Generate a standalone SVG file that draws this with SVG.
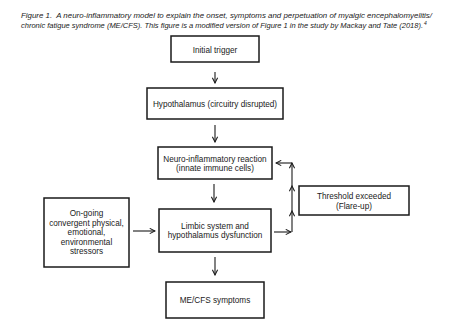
<svg xmlns="http://www.w3.org/2000/svg" width="450" height="321" viewBox="0 0 450 321">
<style>
.box{fill:#fff;stroke:#1a1a1a;stroke-width:1.5}
.t{font-family:"Liberation Sans",Arial,sans-serif;font-size:8.2px;fill:#1a1a1a;text-anchor:middle}
.cap{font-family:"Liberation Sans",Arial,sans-serif;font-size:7.4px;font-style:italic;fill:#1a1a1a}
.c{fill:none;stroke:#1a1a1a;stroke-width:1.1}
</style>
<defs>
<marker id="ah" viewBox="0 0 8 8" refX="7" refY="4" markerWidth="7" markerHeight="7" markerUnits="userSpaceOnUse" orient="auto">
<path d="M1,1 L7,4 L1,7" fill="none" stroke="#1a1a1a" stroke-width="1.2"/>
</marker>
</defs>
<rect width="450" height="321" fill="#fff"/>
<g id="caption">
<text class="cap" x="21" y="18" textLength="411" lengthAdjust="spacingAndGlyphs">Figure 1.&#160; A neuro-inflammatory model to explain the onset, symptoms and perpetuation of myalgic encephalomyelitis/</text>
<text class="cap" x="21" y="28" textLength="402" lengthAdjust="spacingAndGlyphs">chronic fatigue syndrome (ME/CFS). This figure is a modified version of Figure 1 in the study by Mackay and Tate (2018).</text>
<text class="cap" x="424" y="25" style="font-size:5px">4</text>
</g>
<g id="initial-trigger">
<rect class="box" x="171" y="36" width="88" height="26"/>
<text class="t" x="215" y="52.5">Initial trigger</text>
</g>
<g id="hypothalamus">
<rect class="box" x="147" y="88" width="136" height="31"/>
<text class="t" x="215" y="106.5">Hypothalamus (circuitry disrupted)</text>
</g>
<g id="neuro-inflammatory">
<rect class="box" x="158" y="147" width="114" height="32"/>
<text class="t" x="215" y="161.5">Neuro-inflammatory reaction</text>
<text class="t" x="215" y="171">(innate immune cells)</text>
</g>
<g id="limbic">
<rect class="box" x="159" y="209" width="112" height="43"/>
<text class="t" x="215" y="228.5">Limbic system and</text>
<text class="t" x="215" y="238">hypothalamus dysfunction</text>
</g>
<g id="stressors">
<rect class="box" x="44" y="198" width="85" height="69"/>
<text class="t" x="86.5" y="216">On-going</text>
<text class="t" x="86.5" y="225.5">convergent physical,</text>
<text class="t" x="86.5" y="235">emotional,</text>
<text class="t" x="86.5" y="244.5">environmental</text>
<text class="t" x="86.5" y="254">stressors</text>
</g>
<g id="threshold">
<rect class="box" x="299" y="186" width="110" height="29"/>
<text class="t" x="354" y="199">Threshold exceeded</text>
<text class="t" x="354" y="208.5">(Flare-up)</text>
</g>
<g id="symptoms">
<rect class="box" x="166" y="282" width="98" height="36"/>
<text class="t" x="215" y="303">ME/CFS symptoms</text>
</g>
<g id="connectors">
<line class="c" x1="215" y1="72" x2="215" y2="83" marker-end="url(#ah)"/>
<line class="c" x1="215" y1="125" x2="215" y2="142" marker-end="url(#ah)"/>
<line class="c" x1="214" y1="184" x2="214" y2="202" marker-end="url(#ah)"/>
<line class="c" x1="215" y1="257" x2="215" y2="275" marker-end="url(#ah)"/>
<line class="c" x1="133" y1="231" x2="155" y2="231" marker-end="url(#ah)"/>
<line class="c" x1="274" y1="232" x2="291" y2="232" marker-end="url(#ah)"/>
<line class="c" x1="292" y1="232" x2="292" y2="211" marker-end="url(#ah)"/>
<line class="c" x1="292" y1="211" x2="292" y2="186" marker-end="url(#ah)"/>
<line class="c" x1="292" y1="186" x2="292" y2="163" marker-end="url(#ah)"/>
<line class="c" x1="292" y1="163" x2="276" y2="163" marker-end="url(#ah)"/>
</g>
</svg>
